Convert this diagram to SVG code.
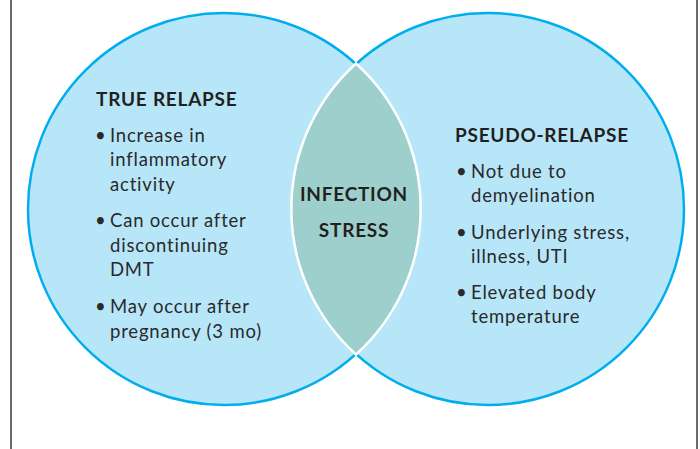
<svg xmlns="http://www.w3.org/2000/svg" width="700" height="449" viewBox="0 0 700 449">
<style>
.frame{stroke:#3a3a3a;stroke-width:1.5;fill:none}
.circle{fill:#B8E6F9;stroke:#00AEEF;stroke-width:2.5}
.lens{fill:#9DCFCC;stroke:#FFFFFF;stroke-width:2.5}
.title{font-family:Lato,"Liberation Sans",sans-serif;font-weight:700;font-size:19px;letter-spacing:0.75px;fill:#231F20}
.body{font-family:Lato,"Liberation Sans",sans-serif;font-weight:400;font-size:18.5px;letter-spacing:0.8px;fill:#2a2a2a}
</style>
<rect width="700" height="449" fill="#FFFFFF"/>
<line class="frame" x1="11" y1="0" x2="11" y2="449"/>
<line class="frame" x1="697" y1="0" x2="697" y2="449"/>
<g id="true-relapse">
<circle class="circle" cx="224" cy="209" r="196"/>
</g>
<g id="pseudo-relapse">
<circle class="circle" cx="488" cy="209" r="196"/>
</g>
<g id="overlap">
<path class="lens" d="M356 63.5 A196 196 0 0 1 356 354.5 A196 196 0 0 1 356 63.5 Z"/>
<text class="title" x="354" y="200.5" text-anchor="middle">INFECTION</text>
<text class="title" x="354" y="236.5" text-anchor="middle">STRESS</text>
</g>
<g id="true-relapse-text">
<text class="title" x="96" y="106">TRUE RELAPSE</text>
<text class="body" x="95" y="141.5">•</text>
<text class="body" x="110" y="141.5">Increase in</text>
<text class="body" x="110" y="166">inflammatory</text>
<text class="body" x="110" y="190.5">activity</text>
<text class="body" x="95" y="227">•</text>
<text class="body" x="110" y="227">Can occur after</text>
<text class="body" x="110" y="251.5">discontinuing</text>
<text class="body" x="110" y="276">DMT</text>
<text class="body" x="95" y="313">•</text>
<text class="body" x="110" y="313">May occur after</text>
<text class="body" x="110" y="337.5">pregnancy (3 mo)</text>
</g>
<g id="pseudo-relapse-text">
<text class="title" x="455" y="142">PSEUDO-RELAPSE</text>
<text class="body" x="456" y="177.5">•</text>
<text class="body" x="471" y="177.5">Not due to</text>
<text class="body" x="471" y="201.5">demyelination</text>
<text class="body" x="456" y="239">•</text>
<text class="body" x="471" y="239">Underlying stress,</text>
<text class="body" x="471" y="263">illness, UTI</text>
<text class="body" x="456" y="299">•</text>
<text class="body" x="471" y="299">Elevated body</text>
<text class="body" x="471" y="323">temperature</text>
</g>
</svg>
